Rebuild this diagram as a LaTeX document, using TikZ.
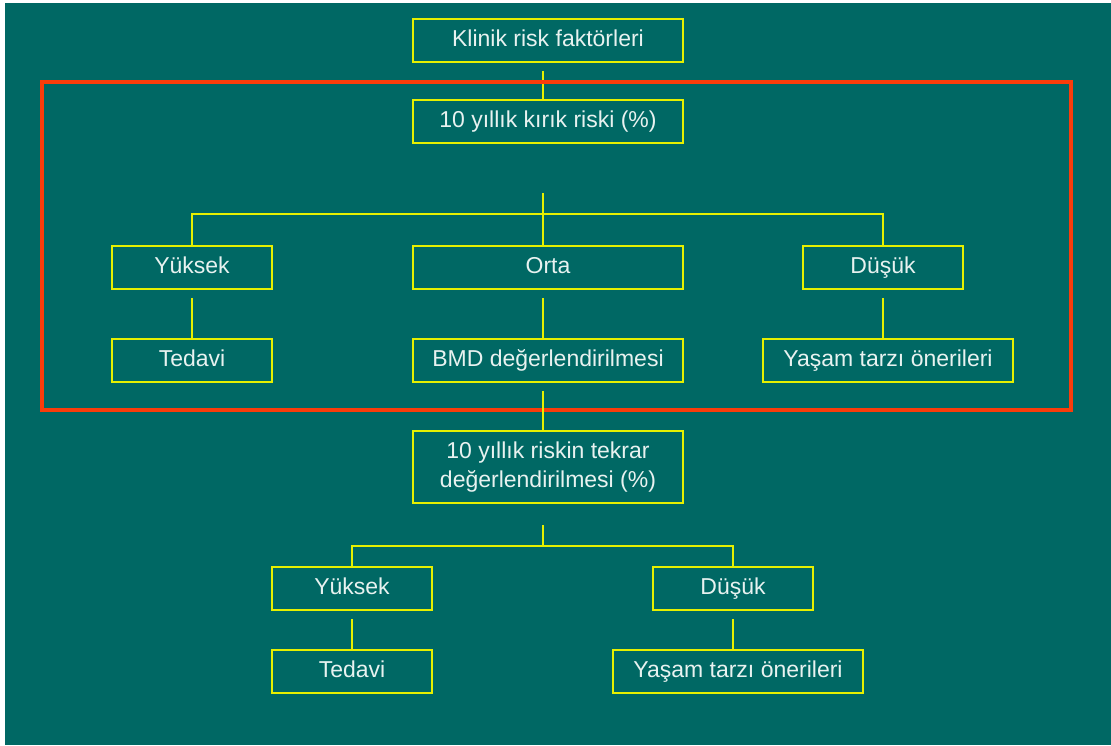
\documentclass[tikz,border=0pt]{standalone}
\usepackage{fontspec}
\setmainfont{Liberation Sans}
\usepackage{tikz}
\usetikzlibrary{calc}

\definecolor{slate}{RGB}{0,104,100}
\definecolor{lemon}{RGB}{230,240,0}
\definecolor{flame}{RGB}{250,60,10}
\definecolor{chalk}{RGB}{232,242,240}

\begin{document}
\begin{tikzpicture}[x=1pt,y=-1pt,
  frame/.style={draw=lemon,line width=1.6pt,text=chalk,inner sep=0pt,
    font=\fontsize{23}{28}\selectfont},
  box/.style={frame,minimum height=43pt,text height=16pt,text depth=4.5pt},
  small/.style={box,minimum width=160pt},
  wide/.style={box,minimum width=270pt},
  link/.style={lemon,line width=1.6pt}]
\useasboundingbox (0,0) rectangle (1111,745);
\fill[white](0,0) rectangle (1111,745);
\fill[slate](5,3) rectangle (1111,745);

% upper part
\node[wide](klinik) at (548,40.5){Klinik risk faktörleri};
\node[wide](kirik) at (548,121.5){10 yıllık kırık riski (\%)};
\node[small](yuksek) at (192,267.5){Yüksek};
\node[wide](orta) at (548,267.5){Orta};
\node[small](dusuk) at (883,267.5){Düşük};
\node[small](tedavi) at (192,360.5){Tedavi};
\node[wide](bmd) at (548,360.5){BMD değerlendirilmesi};
\node[box,minimum width=250pt](yasam) at (888,360.5){Yaşam tarzı önerileri};
\coordinate(mid) at (543,214);

\draw[link,shorten <=8pt]([xshift=-5pt]klinik.south)--([xshift=-5pt]kirik.north);
\draw[link](543,193)--(mid);
\draw[link](mid)--([xshift=-5pt]orta.north);
\draw[link](yuksek.north)|-(mid)-|(dusuk.north);
\draw[link,shorten <=8pt](yuksek.south)--(tedavi.north);
\draw[link,shorten <=8pt]([xshift=-5pt]orta.south)--([xshift=-5pt]bmd.north);
\draw[link,shorten <=8pt](dusuk.south)--(dusuk.south|-yasam.north);

\draw[flame,line width=4pt](42,82) rectangle (1071,410);

% lower part
\node[frame,minimum width=270pt,minimum height=72pt](tekrar) at (548,467)
  {\renewcommand{\arraystretch}{1.05}\begin{tabular}{@{}c@{}}
   10 yıllık riskin tekrar\\değerlendirilmesi (\%)\end{tabular}};
\node[small](yuksekB) at (352,588.5){Yüksek};
\node[small](dusukB) at (733,588.5){Düşük};
\node[small](tedaviB) at (352,671.5){Tedavi};
\node[box,minimum width=250pt](yasamB) at (738,671.5){Yaşam tarzı önerileri};
\coordinate(midB) at (543,546);

\draw[link,shorten <=8pt]([xshift=-5pt]bmd.south)--([xshift=-5pt]tekrar.north);
\draw[link](543,525)--(midB);
\draw[link](yuksekB.north)|-(midB)-|(dusukB.north);
\draw[link,shorten <=8pt](yuksekB.south)--(tedaviB.north);
\draw[link,shorten <=8pt](dusukB.south)--(dusukB.south|-yasamB.north);
\end{tikzpicture}
\end{document}
